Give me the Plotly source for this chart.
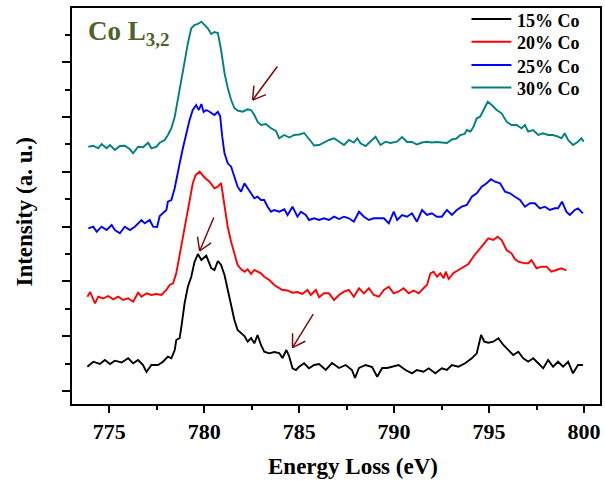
import math
import plotly.graph_objects as go

# Co L3,2 EELS spectra (energy loss in eV, intensity in arbitrary units, stacked)
energy_15 = [773.85, 774.16, 774.51, 774.77, 775.04, 775.30, 775.65, 776.00, 776.26, 776.52,
             776.78, 776.96, 777.22, 777.57, 777.83, 778.09, 778.27, 778.45, 778.53, 778.71,
             778.80, 778.97, 779.14, 779.32, 779.49, 779.67, 779.85, 780.11, 780.37, 780.54,
             780.72, 780.89, 781.07, 781.24, 781.42, 781.59, 781.76, 781.94, 782.12, 782.29,
             782.47, 782.64, 782.81, 782.99, 783.16, 783.43, 783.69, 783.95, 784.12, 784.33,
             784.48, 784.65, 784.83, 785.00, 785.26, 785.52, 785.79, 786.05, 786.40, 786.73,
             787.10, 787.45, 787.78, 787.94, 788.15, 788.50, 788.84, 789.11, 789.37, 789.63,
             789.89, 790.24, 790.60, 790.94, 791.20, 791.55, 791.82, 792.17, 792.51, 792.78,
             793.04, 793.39, 793.74, 794.09, 794.35, 794.48, 794.58, 794.75, 794.96, 795.22,
             795.49, 795.75, 796.01, 796.27, 796.54, 796.80, 797.06, 797.32, 797.59, 797.85,
             798.11, 798.37, 798.63, 798.90, 799.16, 799.42, 799.68, 799.94]
intensity_15 = [3.73, 4.23, 4.0, 4.4, 4.0, 4.33, 4.15, 4.57, 4.07, 4.4,
                3.9, 3.2, 3.9, 3.9, 4.23, 4.73, 4.57, 5.4, 6.4, 6.6,
                7.73, 10.1, 11.73, 12.73, 14.2, 15.0, 14.4, 14.83, 13.6, 13.4,
                14.3, 13.9, 12.9, 11.4, 10.0, 8.4, 7.4, 7.07, 6.8, 6.23,
                6.6, 6.07, 6.9, 5.9, 5.23, 5.07, 5.2, 5.1, 4.6, 5.4,
                4.73, 3.57, 3.4, 3.73, 4.07, 3.57, 3.9, 4.0, 3.4, 4.1,
                3.6, 3.9, 3.4, 2.6, 3.6, 3.9, 3.7, 2.73, 3.6, 3.6,
                3.73, 3.9, 3.4, 3.07, 3.4, 3.23, 3.57, 3.07, 3.57, 3.4,
                3.9, 3.73, 4.07, 4.57, 5.07, 6.07, 6.9, 6.23, 6.13, 6.23,
                6.57, 5.9, 5.4, 4.9, 5.23, 4.57, 4.23, 4.57, 4.07, 3.57,
                4.4, 3.73, 4.23, 3.73, 4.23, 3.07, 3.9, 3.9]

energy_20 = [773.85, 774.00, 774.25, 774.42, 774.67, 774.95, 775.21, 775.47, 775.73, 776.00,
             776.26, 776.52, 776.70, 776.96, 777.22, 777.49, 777.75, 778.01, 778.18, 778.36,
             778.53, 778.71, 778.88, 779.06, 779.23, 779.40, 779.55, 779.76, 780.02, 780.28,
             780.54, 780.72, 780.89, 781.07, 781.24, 781.42, 781.59, 781.76, 781.94, 782.12,
             782.29, 782.47, 782.64, 782.81, 782.99, 783.16, 783.43, 783.69, 783.86, 784.12,
             784.39, 784.65, 784.91, 785.17, 785.44, 785.61, 785.88, 786.05, 786.31, 786.57,
             786.84, 787.10, 787.36, 787.62, 787.88, 788.15, 788.41, 788.67, 788.93, 789.20,
             789.46, 789.72, 789.98, 790.24, 790.50, 790.77, 791.03, 791.29, 791.55, 791.73,
             791.91, 792.08, 792.26, 792.43, 792.61, 792.72, 792.87, 793.13, 793.39, 793.65,
             793.91, 794.17, 794.44, 794.70, 794.96, 795.22, 795.45, 795.66, 795.92, 796.18,
             796.36, 796.54, 796.89, 797.06, 797.23, 797.50, 797.76, 798.02, 798.28, 798.54,
             798.81, 799.07]
intensity_20 = [10.73, 11.2, 10.07, 10.73, 10.55, 10.8, 10.47, 10.73, 10.4, 10.57,
                10.23, 11.13, 10.73, 11.07, 10.9, 11.0, 10.9, 11.4, 11.9, 12.07,
                13.07, 14.9, 16.73, 18.73, 20.4, 22.07, 22.9, 23.23, 22.65, 22.23,
                21.57, 21.73, 22.1, 19.9, 17.7, 16.2, 14.9, 13.9, 13.5, 13.23,
                13.47, 13.0, 13.4, 13.2, 13.07, 12.73, 12.4, 11.9, 11.73, 11.4,
                11.35, 11.13, 11.2, 11.0, 11.4, 10.9, 11.4, 10.67, 11.07, 11.07,
                10.4, 10.9, 11.23, 11.4, 10.73, 11.57, 11.07, 11.57, 10.9, 10.73,
                11.4, 11.73, 11.07, 11.25, 11.57, 11.07, 11.35, 11.07, 11.57, 11.9,
                13.07, 13.23, 12.73, 13.07, 12.57, 13.23, 12.5, 13.1, 13.4, 13.73,
                14.0, 14.73, 15.4, 16.0, 16.57, 16.4, 16.73, 16.4, 15.4, 15.07,
                14.5, 14.23, 14.07, 14.07, 14.4, 13.57, 13.73, 13.73, 13.23, 13.4,
                13.57, 13.35]

energy_25 = [773.90, 774.16, 774.34, 774.60, 774.86, 775.13, 775.30, 775.56, 775.82, 776.09,
             776.35, 776.70, 776.87, 777.13, 777.31, 777.52, 777.66, 777.83, 778.01, 778.09,
             778.27, 778.45, 778.62, 778.71, 778.88, 779.06, 779.23, 779.40, 779.58, 779.72,
             779.85, 779.97, 780.11, 780.28, 780.54, 780.72, 780.84, 780.95, 781.07, 781.24,
             781.42, 781.59, 781.76, 781.94, 782.12, 782.29, 782.47, 782.64, 782.81, 782.99,
             783.16, 783.34, 783.52, 783.69, 783.95, 784.22, 784.39, 784.65, 784.91, 785.09,
             785.35, 785.52, 785.79, 786.05, 786.31, 786.57, 786.84, 787.10, 787.36, 787.62,
             787.88, 788.15, 788.41, 788.67, 788.93, 789.20, 789.46, 789.72, 789.98, 790.16,
             790.42, 790.68, 790.94, 791.20, 791.47, 791.73, 791.99, 792.25, 792.51, 792.78,
             793.04, 793.30, 793.56, 793.83, 794.09, 794.35, 794.61, 794.87, 795.10, 795.31,
             795.58, 795.84, 796.10, 796.36, 796.63, 796.89, 797.15, 797.41, 797.67, 797.94,
             798.20, 798.46, 798.63, 798.84, 799.07, 799.25, 799.51, 799.68, 799.94]
intensity_25 = [17.57, 17.73, 17.23, 17.73, 17.4, 17.9, 17.4, 17.07, 17.73, 17.4,
                17.73, 18.4, 18.07, 18.4, 17.73, 17.7, 18.8, 19.07, 19.4, 20.23,
                20.4, 21.6, 23.4, 24.07, 25.6, 27.07, 28.4, 29.4, 29.9, 29.4,
                30.0, 29.2, 29.4, 29.23, 28.9, 29.23, 28.8, 26.73, 25.07, 24.07,
                23.73, 22.73, 21.73, 21.23, 22.07, 21.57, 21.07, 20.57, 20.73, 20.4,
                20.4, 19.73, 19.23, 19.4, 19.23, 19.47, 18.9, 19.73, 18.73, 19.23,
                18.9, 18.4, 18.57, 18.4, 18.57, 18.4, 18.73, 18.5, 18.73, 18.57,
                18.23, 19.23, 18.73, 18.4, 18.57, 18.55, 18.57, 18.07, 19.23, 18.4,
                18.9, 18.73, 19.07, 18.23, 19.4, 18.9, 19.07, 18.73, 18.73, 19.4,
                18.9, 19.4, 19.73, 19.9, 20.73, 21.07, 21.73, 22.07, 22.47, 22.23,
                22.07, 21.23, 21.07, 20.73, 20.4, 19.73, 20.07, 20.07, 19.57, 19.73,
                19.4, 19.57, 19.57, 20.23, 19.23, 18.9, 19.4, 19.57, 19.07]

energy_30 = [773.90, 774.16, 774.42, 774.60, 774.86, 775.04, 775.30, 775.56, 775.82, 776.09,
             776.26, 776.52, 776.78, 777.05, 777.22, 777.49, 777.66, 777.92, 778.09, 778.27,
             778.45, 778.62, 778.80, 778.97, 779.14, 779.32, 779.49, 779.67, 779.85, 780.02,
             780.19, 780.37, 780.54, 780.72, 780.89, 781.07, 781.24, 781.42, 781.59, 781.76,
             782.03, 782.29, 782.47, 782.64, 782.81, 782.99, 783.25, 783.52, 783.78, 783.95,
             784.21, 784.48, 784.74, 785.00, 785.26, 785.52, 785.79, 786.05, 786.31, 786.57,
             786.84, 787.10, 787.36, 787.62, 787.88, 788.06, 788.23, 788.50, 788.76, 789.02,
             789.28, 789.55, 789.81, 790.15, 790.42, 790.68, 790.94, 791.20, 791.47, 791.73,
             791.99, 792.25, 792.51, 792.78, 793.04, 793.30, 793.48, 793.71, 793.83, 794.02,
             794.18, 794.35, 794.53, 794.70, 794.93, 795.14, 795.40, 795.66, 795.92, 796.18,
             796.45, 796.71, 796.89, 797.06, 797.32, 797.59, 797.85, 798.11, 798.37, 798.63,
             798.81, 798.98, 799.16, 799.42, 799.68, 799.86, 799.98]
intensity_30 = [25.73, 25.83, 25.57, 26.0, 25.57, 25.9, 25.4, 25.8, 25.83, 25.47,
                25.07, 25.73, 25.67, 26.13, 25.57, 25.73, 26.13, 26.4, 26.9, 27.57,
                28.73, 30.4, 32.4, 34.23, 36.07, 37.57, 37.9, 38.0, 38.23, 37.9,
                37.57, 37.0, 37.2, 37.1, 35.4, 33.1, 31.6, 30.4, 29.6, 29.35,
                29.23, 29.47, 29.4, 28.9, 28.23, 27.9, 28.0, 27.57, 27.3, 26.57,
                26.9, 26.65, 26.9, 26.95, 27.1, 26.5, 25.85, 25.9, 26.15, 26.4,
                26.57, 26.2, 25.9, 26.4, 26.15, 26.57, 26.07, 25.8, 26.23, 26.73,
                25.9, 26.23, 26.1, 26.23, 26.7, 26.2, 26.2, 25.95, 26.15, 26.23,
                26.15, 26.2, 26.15, 26.1, 26.45, 26.57, 26.9, 27.0, 27.4, 27.25,
                27.73, 28.57, 28.73, 29.4, 30.23, 29.9, 29.4, 29.07, 28.23, 27.9,
                27.9, 27.57, 27.9, 27.23, 27.4, 26.9, 27.07, 26.9, 26.9, 26.73,
                26.57, 27.07, 26.4, 25.9, 26.23, 26.57, 26.23]

series_names = ["15% Co", "20% Co", "25% Co", "30% Co"]
series_colors = ["#000000", "#FF0000", "#0000FF", "#008080"]
series_energy = [energy_15, energy_20, energy_25, energy_30]
series_intensity = [intensity_15, intensity_20, intensity_25, intensity_30]

# Arrows marking the fine-structure features: (head energy, head intensity, tail energy, tail intensity)
arrow_marks = [
    (782.55, 30.4, 783.91, 33.9),
    (779.76, 15.3, 780.54, 18.8),
    (784.65, 5.63, 785.79, 9.13),
]

X_RANGE = [773.04, 800.84]
Y_RANGE = [0.0, 39.6]
W, H = 605, 481
M = dict(l=72, r=3, t=8, b=77)
SERIF = "Liberation Serif, Times New Roman, serif"

fig = go.Figure()
for name, xs, ys, col in zip(series_names, series_energy, series_intensity, series_colors):
    assert len(xs) == len(ys)
    fig.add_trace(go.Scatter(x=xs, y=ys, mode="lines", name=name, showlegend=False,
                             line=dict(color=col, width=1.9)))

# arrow shafts and open V heads
plot_w = W - M["l"] - M["r"]
plot_h = H - M["t"] - M["b"]
px_x = plot_w / (X_RANGE[1] - X_RANGE[0])
px_y = plot_h / (Y_RANGE[1] - Y_RANGE[0])
arrow_color = "#7A0C0C"
annotations = []
shapes = []
for hx, hy, tx, ty in arrow_marks:
    annotations.append(dict(x=hx, y=hy, ax=tx, ay=ty, xref="x", yref="y",
                            axref="x", ayref="y", text="", showarrow=True,
                            arrowhead=0, arrowwidth=1.5, arrowcolor=arrow_color,
                            standoff=0, startstandoff=0))
    ang = math.atan2(-(ty - hy) * px_y, (tx - hx) * px_x)
    for d in (-0.55, 0.55):
        a = ang + d
        annotations.append(dict(x=hx, y=hy, xref="x", yref="y", text="",
                                ax=16 * math.cos(a), ay=16 * math.sin(a),
                                showarrow=True, arrowhead=0, arrowwidth=1.5,
                                arrowcolor=arrow_color, standoff=0, startstandoff=0))

# legend block in the upper right corner: a short line sample and a label per series
legend_x0, legend_x1, legend_text_x = 0.7566, 0.8321, 0.8396
legend_rows = [0.968, 0.911, 0.852, 0.795]
for name, col, ly in zip(series_names, series_colors, legend_rows):
    shapes.append(dict(type="line", xref="paper", yref="paper",
                       x0=legend_x0, x1=legend_x1, y0=ly + 0.004, y1=ly + 0.004,
                       line=dict(color=col, width=2)))
    annotations.append(dict(text=name, xref="paper", yref="paper", x=legend_text_x, y=ly,
                            xanchor="left", yanchor="middle", showarrow=False,
                            font=dict(family=SERIF, size=18, color="black", weight="bold")))

annotations.append(dict(text="Co L<sub>3,2</sub>", xref="paper", yref="paper",
                        x=0.026, y=0.985, xanchor="left", yanchor="top", showarrow=False,
                        font=dict(family=SERIF, size=27, color="#4F6228", weight="bold")))
annotations.append(dict(text="Energy Loss (eV)", xref="paper", yref="paper",
                        x=0.533, y=-0.158, xanchor="center", yanchor="middle", showarrow=False,
                        font=dict(family=SERIF, size=23, color="black", weight="bold")))
annotations.append(dict(text="Intensity (a. u.)", xref="paper", yref="paper",
                        x=-0.089, y=0.486, xanchor="center", yanchor="middle", showarrow=False,
                        textangle=-90,
                        font=dict(family=SERIF, size=23, color="black", weight="bold")))

fig.update_layout(
    width=W, height=H, margin=M,
    paper_bgcolor="white", plot_bgcolor="white",
    annotations=annotations, shapes=shapes,
    showlegend=False,
    xaxis=dict(range=X_RANGE, showgrid=False, zeroline=False,
               showline=True, linecolor="black", linewidth=2, mirror=True,
               ticks="outside", ticklen=7, tickwidth=2, tickcolor="black",
               tick0=775, dtick=5,
               tickfont=dict(family=SERIF, size=22, color="black", weight="bold"),
               minor=dict(ticks="outside", ticklen=4, tickwidth=2, tickcolor="black",
                          tick0=775, dtick=2.5)),
    yaxis=dict(range=Y_RANGE, showgrid=False, zeroline=False,
               showline=True, linecolor="black", linewidth=2, mirror=True,
               showticklabels=False,
               ticks="outside", ticklen=8, tickwidth=2, tickcolor="black",
               tick0=1.3, dtick=5.48,
               minor=dict(ticks="outside", ticklen=5, tickwidth=2, tickcolor="black",
                          tick0=1.3, dtick=2.74)),
)

fig.write_html("out.html")
